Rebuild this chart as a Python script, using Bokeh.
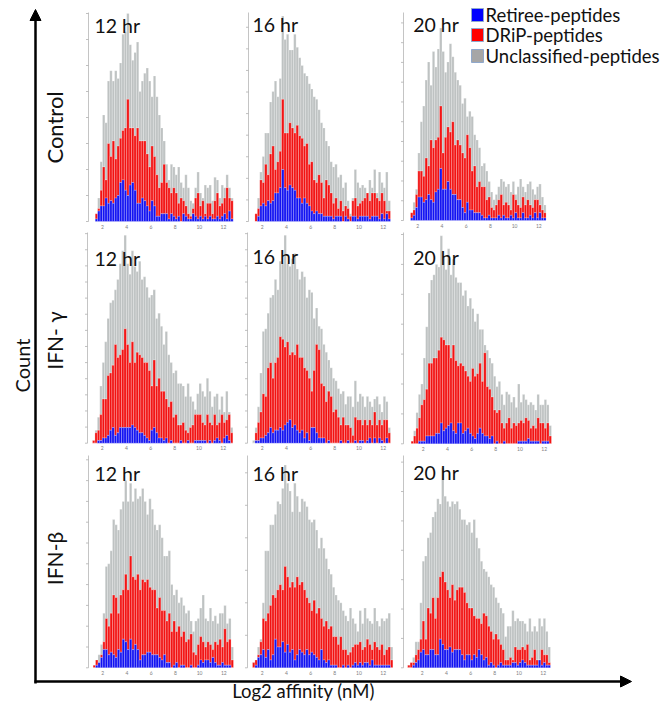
from bokeh.plotting import figure
from bokeh.models import Range1d, Label, Arrow, NormalHead, ColumnDataSource
from bokeh.core.properties import value
from bokeh.embed import file_html
from bokeh.resources import INLINE

# ---------------- data (counts per 0.2-wide log2-affinity bin) ----------------
bin_width = 0.2
x_ticks = [2, 4, 6, 8, 10, 12]
x_tick_labels = ["2", "4", "6", "8", "10", "12"]
timepoints = ["12 hr", "16 hr", "20 hr"]
treatments = ["Control", "IFN- γ", "IFN-β"]
series_names = ["Retiree-peptides", "DRiP-peptides", "Unclassified-peptides"]
axis_title_y = "Count"
axis_title_x = "Log2 affinity (nM)"

# each panel: first bin edge, retiree counts, retiree+DRiP counts, all peptides
ctrl_12_first = 1.4
ctrl_12_ret = [1,4,6,6,9,7,8,7,9,10,15,16,12,10,14,15,12,7,7,9,8,6,4,8,6,2,2,3,3,3,1,3,2,1,2,0,3,2,1,1,3,2,1,2,1,2,1,2,1,1,2,1,2,3,1,4,1]
ctrl_12_cls = [3,5,12,21,16,30,25,31,24,29,32,35,36,47,36,36,33,36,31,31,31,26,21,29,25,18,13,15,22,15,13,11,13,11,7,9,8,6,3,2,5,9,11,6,8,3,7,7,3,8,11,6,7,9,13,9,8]
ctrl_12_all = [3,9,23,41,38,54,58,54,58,55,61,72,73,80,68,62,65,69,50,54,57,59,54,48,56,48,41,36,31,22,16,22,21,18,21,15,13,18,13,8,7,13,19,11,9,14,13,14,8,17,16,9,14,13,18,13,9]

ctrl_16_first = 1.4
ctrl_16_ret = [0,2,6,7,6,8,7,8,11,11,13,20,13,12,14,13,12,9,9,7,9,7,6,4,3,4,3,3,2,2,2,2,1,2,2,2,0,2,1,0,2,2,1,2,2,2,2,1,2,2,2,1,3,1,3,1]
ctrl_16_cls = [3,5,16,15,22,18,26,29,20,23,27,47,34,34,38,36,34,37,33,32,29,30,22,23,16,15,18,15,9,16,14,11,7,9,5,8,4,6,5,2,8,9,6,7,8,9,11,8,11,11,9,8,11,8,4,4]
ctrl_16_all = [3,9,19,25,34,34,46,50,54,48,55,79,70,72,66,66,72,67,63,60,57,56,53,51,48,47,43,38,36,31,29,23,21,22,17,18,13,15,8,3,9,20,15,13,14,13,11,16,13,20,11,19,15,13,19,8]

ctrl_20_first = 1.4
ctrl_20_ret = [1,2,5,9,9,7,8,10,8,7,11,12,20,12,12,15,12,10,10,8,8,5,3,7,4,4,3,3,3,2,1,1,2,1,1,1,2,1,2,1,1,2,1,3,1,1,3,1,1,2,1,3,1,3,1,1]
ctrl_20_cls = [3,4,10,19,19,17,24,21,31,28,31,32,44,26,32,36,34,38,29,31,29,26,24,33,28,19,21,13,15,13,13,8,9,5,4,6,8,10,6,7,6,4,10,8,6,5,9,6,8,6,5,8,8,6,4,3]
ctrl_20_all = [3,7,12,26,38,44,54,61,52,65,59,66,74,65,57,61,68,63,57,54,52,45,47,40,42,40,33,31,28,21,22,19,15,11,8,10,13,16,15,13,14,11,15,10,13,16,13,11,14,15,12,10,13,14,9,6]

ifng_12_first = 1.2
ifng_12_ret = [0,0,1,1,2,2,3,5,6,3,4,6,6,6,6,6,7,6,5,4,4,3,2,1,5,6,4,2,2,1,2,0,1,0,0,0,1,0,0,1,0,0,1,1,1,1,1,0,1,0,1,2,1,0,2,3,1,0]
ifng_12_cls = [1,4,5,11,17,17,26,27,30,38,33,34,36,44,38,31,39,31,35,34,33,31,31,28,22,32,22,25,20,20,17,14,16,10,11,7,7,8,5,4,6,7,11,11,11,8,7,11,8,7,11,7,8,11,8,9,11,4]
ifng_12_all = [1,5,10,22,31,39,48,54,55,59,63,69,74,80,69,65,74,68,66,70,63,64,60,56,57,59,48,50,45,38,43,34,31,27,28,23,23,22,18,23,18,16,13,19,23,20,18,25,20,14,18,19,13,18,12,20,12,6]

ifng_16_first = 1.2
ifng_16_ret = [0,1,1,2,2,3,4,6,4,5,5,6,5,7,8,9,6,7,5,4,5,2,4,1,6,6,4,2,2,2,0,1,0,0,0,0,1,0,0,1,0,0,1,0,1,1,0,1,2,0,2,0,2,1,0,2,0]
ifng_16_cls = [0,4,8,12,19,18,29,31,25,31,33,41,40,37,39,34,35,34,38,33,33,29,28,25,20,28,38,36,23,22,16,20,18,12,13,10,7,10,7,7,6,3,10,9,9,7,9,7,9,7,12,7,9,7,9,9,4]
ifng_16_all = [1,6,14,27,43,44,50,56,57,63,59,70,69,80,69,68,71,73,67,63,66,64,56,59,58,48,52,45,44,38,35,32,29,25,24,21,19,20,15,18,18,14,24,16,19,18,14,18,16,14,17,18,15,12,18,16,6]

ifng_20_first = 0.8
ifng_20_ret = [0,0,0,0,1,1,1,3,3,3,3,4,4,8,5,6,7,8,5,4,8,8,4,5,6,4,3,2,4,6,4,3,3,2,3,0,1,0,0,1,0,0,0,0,0,1,1,1,1,2,1,1,1,1,0,1,1,1,0]
ifng_20_cls = [0,1,3,6,10,15,17,21,31,31,33,33,36,41,40,38,38,33,38,32,30,31,30,28,26,24,29,26,27,31,24,35,22,21,18,13,12,13,8,6,8,10,6,8,7,8,9,8,10,9,6,7,6,10,8,8,6,8,3]
ifng_20_all = [0,1,5,12,19,23,33,45,58,63,65,69,68,80,72,67,75,65,71,64,62,62,57,59,53,56,52,47,50,44,44,38,36,33,31,26,22,24,19,15,20,19,16,18,14,23,16,19,17,15,16,15,13,19,15,15,17,15,7]

ifnb_12_first = 1.2
ifnb_12_ret = [0,1,2,4,7,7,5,6,5,4,7,6,11,10,7,11,7,9,7,3,5,5,6,6,5,5,5,4,3,5,2,2,0,1,2,0,1,1,0,0,1,0,0,1,3,2,3,3,2,4,2,1,1,2,1,1,1,0]
ifnb_12_cls = [1,3,2,5,10,19,16,21,28,27,21,28,30,36,30,43,35,34,36,30,34,33,34,31,30,30,23,27,22,22,18,21,14,18,14,16,12,14,10,11,13,6,5,9,12,10,8,10,9,7,10,9,11,8,15,10,11,3]
ifnb_12_all = [1,3,5,9,21,39,40,45,57,55,53,61,64,72,64,71,64,69,65,66,69,64,59,65,61,55,53,55,50,43,43,45,32,28,30,25,27,24,21,22,18,14,18,19,23,28,19,18,23,18,20,17,21,21,24,17,19,8]

ifnb_16_first = 1.2
ifnb_16_ret = [0,1,4,5,7,4,7,3,5,11,8,8,10,6,9,6,7,3,5,7,6,5,7,5,6,5,4,3,7,3,2,3,1,1,1,0,0,1,0,1,0,1,2,1,2,1,2,2,1,3,1,1,1,1,1,1,1,0]
ifnb_16_cls = [2,3,5,10,19,18,21,24,28,27,30,32,30,39,35,31,33,31,35,32,33,30,27,25,22,26,21,23,19,16,18,15,16,12,12,9,12,7,7,5,6,8,9,9,10,7,8,11,9,7,10,8,7,9,5,7,8,3]
ifnb_16_all = [2,3,8,11,25,45,45,55,55,59,64,63,69,78,71,68,60,71,66,60,65,64,62,57,56,57,53,46,50,46,42,38,36,31,28,26,25,22,20,18,23,19,17,14,22,17,23,19,18,17,23,18,16,19,18,19,21,8]

ifnb_20_first = 0.8
ifnb_20_ret = [0,0,1,2,3,6,7,5,5,7,7,5,5,11,9,7,7,8,6,7,7,7,5,3,5,5,3,5,4,7,5,3,4,1,2,1,0,1,2,1,1,1,1,2,2,1,2,3,2,1,1,1,1,1,3,1,2,1,1]
ifnb_20_cls = [1,2,2,5,7,11,18,11,23,21,27,19,27,35,37,33,30,27,32,26,30,31,31,29,25,23,23,20,19,19,17,21,20,16,14,11,13,11,9,7,3,3,4,3,8,7,7,8,7,9,3,4,7,3,3,7,5,5,2]
ifnb_20_all = [1,2,4,10,10,25,41,43,50,52,58,60,65,63,77,66,64,62,64,63,64,61,57,57,55,56,52,57,50,46,41,38,37,35,32,31,27,25,23,21,12,16,16,22,18,19,18,18,17,14,19,14,16,14,19,16,19,14,8]

panels = [
    (ctrl_12_first, ctrl_12_ret, ctrl_12_cls, ctrl_12_all),
    (ctrl_16_first, ctrl_16_ret, ctrl_16_cls, ctrl_16_all),
    (ctrl_20_first, ctrl_20_ret, ctrl_20_cls, ctrl_20_all),
    (ifng_12_first, ifng_12_ret, ifng_12_cls, ifng_12_all),
    (ifng_16_first, ifng_16_ret, ifng_16_cls, ifng_16_all),
    (ifng_20_first, ifng_20_ret, ifng_20_cls, ifng_20_all),
    (ifnb_12_first, ifnb_12_ret, ifnb_12_cls, ifnb_12_all),
    (ifnb_16_first, ifnb_16_ret, ifnb_16_cls, ifnb_16_all),
    (ifnb_20_first, ifnb_20_ret, ifnb_20_cls, ifnb_20_all),
]

# ---------------- layout / style ----------------
W, H = 661, 704
BLUE, RED, GRAY = "#1212F2", "#F21212", "#BEC2C2"
FONT = "Lato"
KX = 12.1   # px per log2 unit
KY = 2.6    # px per count
# page-pixel geometry of each panel: x of tick "2", baseline y, y-axis x, axis top, tick step (counts)
geo = [
    (102.0, 221.0, 88, 12, 10.0), (261.7, 221.0, 248, 12, 8.3), (417.3, 220.0, 403, 12, 7.6),
    (101.7, 442.7, 87, 232, 6.2), (261.7, 442.7, 247, 232, 6.2), (422.7, 443.3, 403, 232, 11.5),
    (102.3, 667.3, 88, 455, 8.0), (261.7, 667.3, 247, 455, 12.5), (421.7, 667.3, 403, 455, 11.3),
]
title_pos = [(94, 25), (252, 24), (412.7, 24), (94, 258), (252, 256), (412.7, 257),
             (94, 473), (252, 473), (412.7, 472)]

p = figure(width=W, height=H, x_range=Range1d(0, W), y_range=Range1d(H, 0),
           output_backend="svg", toolbar_location=None, min_border=0,
           x_axis_location=None, y_axis_location=None)
p.grid.visible = False
p.outline_line_color = None
p.background_fill_color = "white"

for i, ((first, ret, cls, tot), (t2, base, ax_x, ax_top, step)) in enumerate(zip(panels, geo)):
    xn, yn = f"x{i}", f"y{i}"
    p.extra_x_ranges[xn] = Range1d(2 + (0 - t2) / KX, 2 + (W - t2) / KX)
    p.extra_y_ranges[yn] = Range1d((base - H) / KY, base / KY)
    n = len(tot)
    xs = [first + bin_width * (j + 0.5) for j in range(n)]
    cls_c = [max(c, r) for c, r in zip(cls, ret)]
    tot_c = [max(t, c) for t, c in zip(tot, cls_c)]
    src = ColumnDataSource(dict(x=xs, ret=ret, cls=cls_c, tot=tot_c))
    kw = dict(x="x", width=bin_width, source=src, line_color="white", line_width=0.4,
              line_alpha=0.6, x_range_name=xn, y_range_name=yn)
    p.vbar(bottom="cls", top="tot", fill_color=GRAY, **kw)
    p.vbar(bottom="ret", top="cls", fill_color=RED, **kw)
    p.vbar(bottom=0, top="ret", fill_color=BLUE, **kw)

    # light axes of the small panels
    p.segment(x0=[ax_x], y0=[ax_top], x1=[ax_x], y1=[base], line_color="#C4C4C4", line_width=1)
    ymax = (base - ax_top) / KY
    ticks = []
    v = 0.0
    while v <= ymax + 0.01:
        ticks.append(v)
        v += step
    p.segment(x0=[ax_x - 2.5] * len(ticks), y0=ticks, x1=[ax_x] * len(ticks), y1=ticks,
              line_color="#B0B0B0", line_width=0.8, y_range_name=yn)
    p.text(x=x_ticks, y=[base + 5] * len(x_ticks), text=x_tick_labels, x_range_name=xn,
           text_font=value(FONT), text_font_size="5px", text_color="#808080",
           text_align="center", text_baseline="middle")

    tx, ty = title_pos[i]
    p.add_layout(Label(x=tx, y=ty, text=timepoints[i % 3], text_font=FONT, text_font_size="19.5px",
                       text_color="#111111", text_align="left", text_baseline="middle"))

# row labels and axis titles
for lab, yy, fs in zip(treatments, [127, 340, 558], ["22px", "21px", "21px"]):
    p.add_layout(Label(x=54, y=yy, text=lab, angle=90, angle_units="deg", text_font=FONT,
                       text_font_size=fs, text_color="#111111", text_align="center",
                       text_baseline="middle"))
p.add_layout(Label(x=21, y=365, text=axis_title_y, angle=90, angle_units="deg", text_font=FONT,
                   text_font_size="20px", text_color="#111111", text_align="center",
                   text_baseline="middle"))
p.add_layout(Label(x=303, y=690, text=axis_title_x, text_font=FONT, text_font_size="18.5px",
                   text_color="#111111", text_align="center", text_baseline="middle"))

# big axis arrows
p.add_layout(Arrow(end=NormalHead(size=11, fill_color="black", line_color="black"),
                   x_start=35, y_start=683, x_end=35, y_end=9, line_width=2.5, line_color="black"))
p.add_layout(Arrow(end=NormalHead(size=11, fill_color="black", line_color="black"),
                   x_start=34, y_start=681, x_end=631, y_end=681, line_width=2.5, line_color="black"))

# legend
leg_colors = ["#0000FF", "#FF0000", "#A6A6A6"]
leg_top = [8, 28, 49]
for name, col, t in zip(series_names, leg_colors, leg_top):
    p.quad(left=[471], right=[483], top=[t], bottom=[t + 13], fill_color=col,
           line_color="#8FA8CC", line_width=1)
    p.add_layout(Label(x=485, y=t + 6.5, text=name, text_font=FONT, text_font_size="18.5px",
                       text_color="#111111", text_align="left", text_baseline="middle"))

open("out.html", "w").write(file_html(p, INLINE))
